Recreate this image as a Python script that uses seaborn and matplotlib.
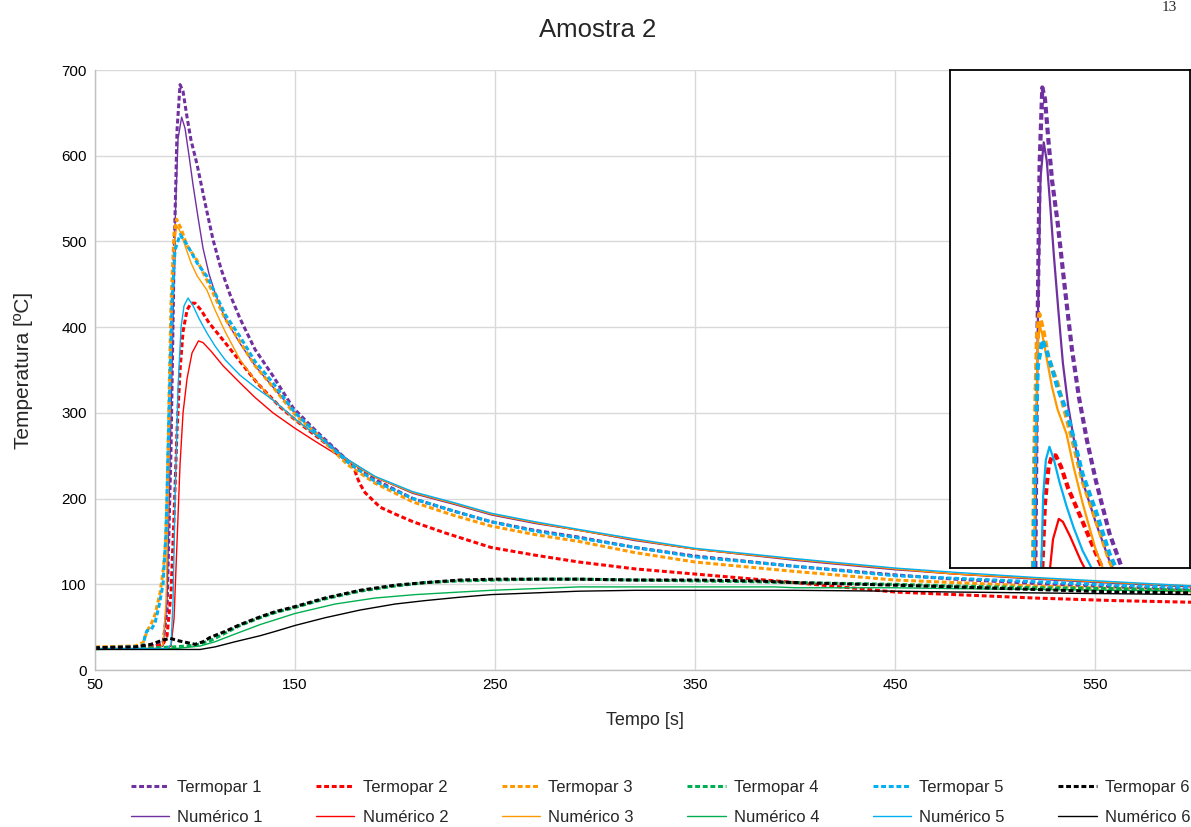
import numpy as np
import pandas as pd
import matplotlib
matplotlib.use("Agg")
import matplotlib.pyplot as plt
import seaborn as sns

# ---- dados (tempo [s], temperatura [ºC]) ----
t_termopar1 = [50, 70, 80, 84, 86, 88, 89.5, 91, 92.5, 94, 96, 98, 101, 105, 109, 113, 117.5, 122.5, 130, 139, 149, 160, 176, 190, 209, 230, 248, 270, 292, 320, 350, 400, 450, 480, 520, 560, 600]
T_termopar1 = [26, 27, 28, 32, 70, 260, 480, 630, 683, 675, 645, 618, 590, 545, 502, 468, 438, 410, 374, 343, 306, 280, 245, 222, 200, 185, 173, 163, 155, 143, 133, 121, 111, 106, 101, 97, 94]

t_numerico1 = [50, 80, 84, 86, 88, 90, 91.5, 93.3, 95, 97, 99, 101.5, 104, 107, 110, 115, 122.5, 130, 139, 150, 160, 176, 190, 209, 230, 248, 270, 292, 320, 350, 400, 450, 480, 520, 560, 600]
T_numerico1 = [25, 25, 28, 80, 300, 520, 620, 645, 632, 600, 566, 528, 492, 462, 440, 410, 381, 355, 330, 300, 278, 246, 225, 206, 193, 181, 171, 163, 151, 141, 128, 117, 112, 106, 101, 97]

t_termopar2 = [50, 70, 80, 84, 86, 88, 89.5, 91, 92.5, 94, 96, 98, 100, 103, 107, 114, 122.5, 131, 142.5, 150, 160, 170, 178, 179.5, 181, 182.5, 185, 192.5, 200, 209, 225, 248, 270, 292, 320, 350, 400, 450, 480, 520, 560, 600]
T_termopar2 = [26, 27, 28, 30, 40, 90, 180, 280, 350, 395, 420, 428, 428, 420, 405, 385, 360, 335, 307, 292, 274, 256, 240, 236, 225, 217, 207, 190, 182, 173, 160, 143, 134, 126, 118, 112, 102, 91, 88, 84, 81, 79]

t_numerico2 = [50, 86, 88, 89.5, 91, 92.5, 94, 96, 98.5, 101.7, 104, 108, 114, 122.5, 130, 139, 150, 160, 176, 190, 209, 230, 248, 270, 292, 320, 350, 400, 450, 480, 520, 560, 600]
T_numerico2 = [25, 25, 28, 60, 150, 240, 300, 340, 370, 384, 382, 372, 355, 335, 318, 300, 282, 267, 244, 225, 207, 194, 182, 172, 163, 152, 141, 129, 118, 112, 107, 102, 97]

t_termopar3 = [50, 70, 74, 76, 78.5, 80, 82.5, 84, 85, 86, 87, 88, 89.5, 90.8, 93, 96, 101, 109, 115, 122.5, 130, 139, 150, 160, 176, 190, 209, 230, 248, 270, 292, 320, 350, 400, 450, 480, 520, 560, 600]
T_termopar3 = [27, 28, 32, 45, 56, 65, 90, 115, 140, 200, 320, 430, 510, 526, 515, 495, 478, 440, 410, 383, 355, 330, 298, 277, 240, 218, 196, 180, 168, 158, 150, 137, 126, 115, 105, 102, 98, 95, 92]

t_numerico3 = [50, 82, 84, 85.5, 87, 88.5, 90, 91, 92.5, 95, 98, 101, 106, 110, 115, 122.5, 130, 139, 150, 160, 176, 190, 209, 230, 248, 270, 292, 320, 350, 400, 450, 480, 520, 560, 600]
T_numerico3 = [25, 25, 30, 80, 250, 420, 505, 518, 512, 495, 475, 460, 443, 420, 395, 362, 338, 315, 292, 275, 245, 225, 207, 194, 182, 172, 163, 152, 141, 129, 118, 112, 107, 102, 98]

t_termopar4 = [50, 80, 90, 100, 107.5, 115, 122.5, 132.5, 140, 150, 165, 182.5, 200, 215, 232.5, 250, 270, 292, 320, 350, 380, 400, 450, 480, 520, 560, 600]
T_termopar4 = [25, 26, 27, 29, 34, 43, 52, 61, 67, 73, 83, 92, 98, 102, 104, 105, 106, 106, 105, 104, 103, 102, 100, 98, 96, 95, 93]

t_numerico4 = [50, 90, 102.5, 110, 120, 132.5, 150, 170, 190, 210, 232.5, 248, 270, 292, 320, 350, 390, 400, 450, 480, 520, 560, 600]
T_numerico4 = [24, 25, 28, 33, 42, 53, 66, 77, 84, 88, 91, 93, 95, 97, 97, 97, 97, 96, 96, 95, 94, 93, 92]

t_termopar5 = [50, 70, 74, 75, 76, 78, 80, 82, 84, 85.5, 87, 88.5, 90, 92.5, 95, 98, 101, 106, 109, 115, 122.5, 130, 139, 150, 160, 176, 190, 209, 230, 248, 270, 292, 320, 350, 400, 450, 480, 520, 560, 600]
T_termopar5 = [26, 27, 28, 40, 46, 47, 55, 75, 100, 160, 300, 430, 490, 508, 500, 488, 475, 459, 445, 415, 389, 360, 335, 300, 278, 243, 220, 200, 185, 173, 162, 154, 143, 132, 121, 110, 107, 103, 99, 96]

t_numerico5 = [50, 86, 88, 89, 90, 91.5, 93, 94.5, 96.5, 99, 102, 106, 110, 115, 122.5, 130, 139, 150, 160, 176, 190, 209, 230, 248, 270, 292, 320, 350, 400, 450, 480, 520, 560, 600]
T_numerico5 = [25, 25, 30, 80, 200, 330, 400, 425, 434, 425, 410, 393, 378, 362, 344, 330, 315, 293, 275, 246, 226, 208, 195, 183, 173, 164, 153, 142, 130, 119, 114, 108, 103, 98]

t_termopar6 = [50, 70, 78, 84, 87.5, 92, 100, 104, 107.5, 115, 122.5, 132.5, 140, 150, 165, 182.5, 200, 215, 232.5, 250, 270, 292, 320, 350, 380, 400, 450, 480, 520, 560, 600]
T_termopar6 = [26, 27, 30, 35, 37, 34, 30, 33, 38, 45, 53, 62, 68, 74, 84, 93, 99, 102, 105, 106, 106, 106, 105, 105, 104, 102, 99, 97, 94, 91, 90]

t_numerico6 = [50, 102.5, 110, 120, 132.5, 140, 150, 165, 182.5, 200, 215, 232.5, 248, 270, 292, 320, 350, 400, 450, 480, 520, 560, 600]
T_numerico6 = [24, 24, 27, 33, 40, 45, 52, 61, 70, 77, 81, 85, 88, 90, 92, 93, 93, 93, 92, 91, 90, 89, 88]

cores = ["#7030A0", "#FF0000", "#FF9900", "#00B050", "#00B0F0", "#000000"]

series = [
    ("Termopar 1", t_termopar1, T_termopar1), ("Numérico 1", t_numerico1, T_numerico1),
    ("Termopar 2", t_termopar2, T_termopar2), ("Numérico 2", t_numerico2, T_numerico2),
    ("Termopar 3", t_termopar3, T_termopar3), ("Numérico 3", t_numerico3, T_numerico3),
    ("Termopar 4", t_termopar4, T_termopar4), ("Numérico 4", t_numerico4, T_numerico4),
    ("Termopar 5", t_termopar5, T_termopar5), ("Numérico 5", t_numerico5, T_numerico5),
    ("Termopar 6", t_termopar6, T_termopar6), ("Numérico 6", t_numerico6, T_numerico6),
]

sns.set_style("whitegrid")
plt.rcParams["font.family"] = ["Liberation Sans", "DejaVu Sans"]

fig = plt.figure(figsize=(11.91, 8.27), dpi=100)
ax = fig.add_axes([0.0798, 0.1898, 0.9236, 0.7255])
ax_in = fig.add_axes([0.7977, 0.3132, 0.2015, 0.602])


def desenha(eixo, lw_d, lw_s):
    for i, (nome, t, T) in enumerate(series):
        cor = cores[i // 2]
        if nome.startswith("Termopar"):
            sns.lineplot(x=t, y=T, ax=eixo, color=cor, lw=lw_d, dashes=False,
                         linestyle=(0, (1.6, 0.9)), label=nome)
        else:
            sns.lineplot(x=t, y=T, ax=eixo, color=cor, lw=lw_s, label=nome)


desenha(ax, 2.2, 1.0)
ax.set_xlim(50, 600)
ax.set_ylim(0, 700)
ax.set_xticks([50, 150, 250, 350, 450, 550])
ax.set_yticks(range(0, 701, 100))
ax.grid(True, color="#D9D9D9", lw=1.0)
ax.tick_params(axis="both", length=0, labelsize=11, colors="#000000", pad=6)
for s in ["top", "right"]:
    ax.spines[s].set_visible(False)
for s in ["left", "bottom"]:
    ax.spines[s].set_color("#BFBFBF")
    ax.spines[s].set_linewidth(1.0)
ax.set_xlabel("Tempo [s]", fontsize=13, labelpad=14)
ax.set_ylabel("Temperatura [ºC]", fontsize=15, labelpad=20)
handles, labels = ax.get_legend_handles_labels()
ax.get_legend().remove()

# detalhe do pico
desenha(ax_in, 3.0, 1.6)
ax_in.get_legend().remove()
ax_in.set_xlim(41, 175)
ax_in.set_ylim(350, 695)
ax_in.set_xticks([])
ax_in.set_yticks([])
ax_in.grid(False)
ax_in.set_facecolor("white")
for s in ax_in.spines.values():
    s.set_visible(True)
    s.set_color("#000000")
    s.set_linewidth(1.3)

fig.suptitle("Amostra 2", x=0.502, y=0.978, fontsize=18.5, va="top")
fig.text(0.982, 0.999, "13", fontsize=11, family="Liberation Serif", ha="center", va="top")

fig.legend(handles, labels, loc="center", ncol=6, bbox_to_anchor=(0.5546, 0.03),
           frameon=False, fontsize=12, handlelength=2.3, handletextpad=0.5,
           columnspacing=3.2, labelspacing=0.9)

fig.savefig("out.png", dpi=100)
